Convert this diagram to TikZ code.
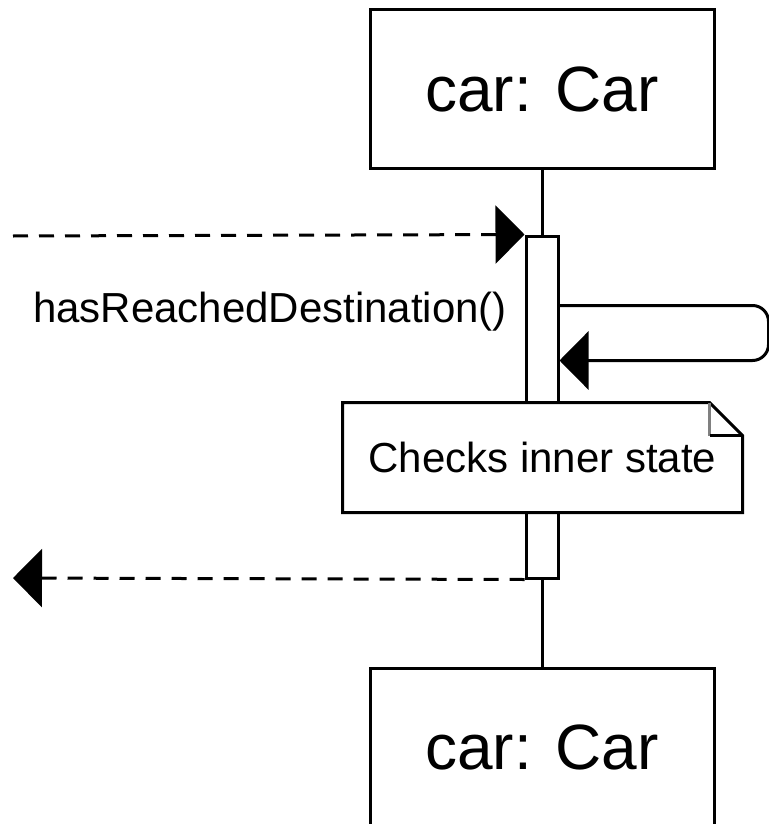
\documentclass[tikz,border=0pt]{standalone}
\usepackage{fontspec}
\setmainfont{Liberation Sans}
\usetikzlibrary{arrows.meta,positioning,calc}
\definecolor{FoldGray}{RGB}{128,128,128}

\begin{document}
\begin{tikzpicture}[x=0.5pt,y=-0.5pt,line width=1.5pt,
    objbox/.style={draw,fill=white,minimum width=172pt,minimum height=79pt,inner sep=0pt,font=\fontsize{32}{38}\selectfont},
    actbar/.style={draw,fill=white,minimum width=16pt,minimum height=171pt,inner sep=0pt},
    notebox/.style={fill=white,minimum width=198.5pt,minimum height=53.5pt,inner sep=0pt,font=\fontsize{21}{25}\selectfont},
    msg/.style={-{Triangle[length=14.5pt,width=29pt]}},
    dashmsg/.style={msg,dash pattern=on 7.5pt off 5.5pt}]
  \useasboundingbox (0,0) rectangle (769,824);
  \node[objbox] (carTop) at (542,89) {car: Car};
  \node[objbox] (carBot) at (542,747) {car: Car};
  \node[actbar] (bar) at (542,407) {};
  \draw (carTop.south) -- (bar.north);
  \draw (bar.south) -- (carBot.north);
  \coordinate (callIn) at (13,236);
  \draw[dashmsg] (callIn) -- (bar.north west);
  \node[font=\fontsize{21}{25}\selectfont,anchor=base] (callLbl) at (270,322) {hasReachedDestination()};
  \draw[msg,rounded corners=8pt] ($(bar.north east)+(0,71)$) -- ++(209,0) -- ++(0,55) -- ($(bar.north east)+(0,126)$);
  \node[notebox] (note) at (542.5,457.5) {Checks inner state};
  \draw (note.north west) -- ($(note.north east)+(-33,0)$) -- ($(note.north east)+(0,33)$)
    -- (note.south east) -- (note.south west) -- cycle;
  \draw[FoldGray] ($(note.north east)+(-33,0)$) -- ($(note.north east)+(-33,33)$);
  \draw ($(note.north east)+(-33,33)$) -- ($(note.north east)+(0,33)$);
  \coordinate (retOut) at (13,578);
  \draw[dashmsg] (bar.south west) -- (retOut);
\end{tikzpicture}
\end{document}
